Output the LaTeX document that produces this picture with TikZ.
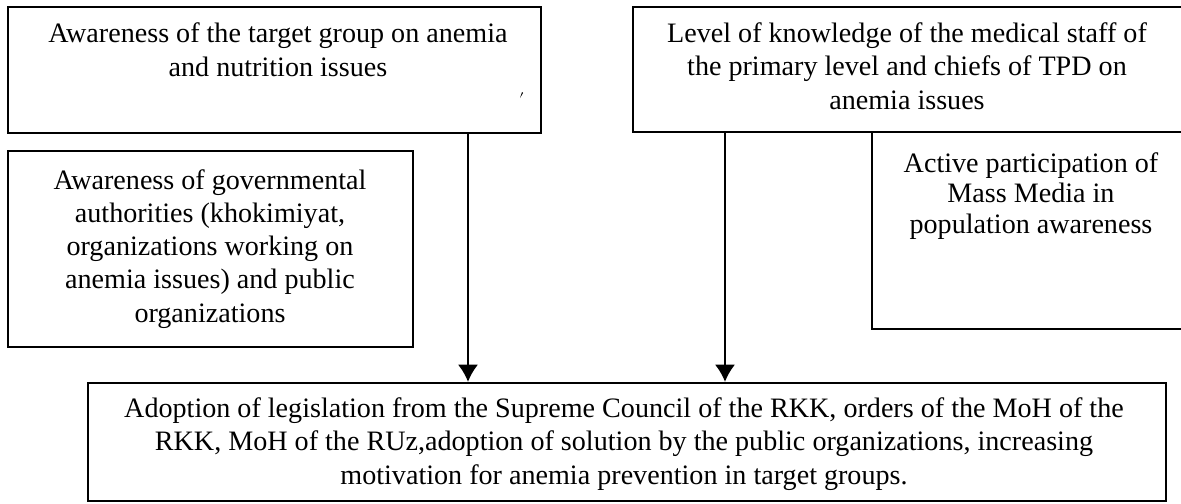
\documentclass[tikz,border=0pt]{standalone}
\usepackage{fontspec}
\setmainfont{Liberation Serif}
\usetikzlibrary{arrows.meta,fit}

\begin{document}
\begin{tikzpicture}[x=0.015cm, y=-0.015cm,
    box/.style={draw, line width=1pt, inner sep=0pt},
    txt/.style={align=center, inner sep=0pt, anchor=base, font=\fontsize{12}{14.1}\selectfont},
    flow/.style={-{Latex[length=7.3pt, width=8.5pt]}, line width=0.7pt}]
    % Define frame
    \useasboundingbox (0,0) rectangle (1181,504);
    \clip (0,0) rectangle (1181,504);

    % Define corners of the boxes
    \coordinate (a1) at (8,7);    \coordinate (a2) at (541,133);
    \coordinate (b1) at (633,7);  \coordinate (b2) at (1184,132);
    \coordinate (c1) at (872,132); \coordinate (c2) at (1190,329);
    \coordinate (d1) at (8,151);  \coordinate (d2) at (413,347);
    \coordinate (e1) at (88,383); \coordinate (e2) at (1166,501);

    % Draw boxes
    \node[box, fit=(a1)(a2)] (target) {};
    \node[box, fit=(b1)(b2)] (staff) {};
    \node[box, fit=(c1)(c2)] (media) {};
    \node[box, fit=(d1)(d2)] (gov) {};
    \node[box, fit=(e1)(e2)] (result) {};

    % Draw texts (placed at the baseline of the last line)
    \node[txt] (targetT) at (278,76) {Awareness of the target group on anemia\\ and nutrition issues};
    \node[txt] (staffT) at (907,109) {Level of knowledge of the medical staff of\\ the primary level and chiefs of TPD on\\ anemia issues};
    \node[txt, font=\fontsize{12}{13}\selectfont] (mediaT) at (1031,233) {Active participation of\\ Mass Media in\\ population awareness};
    \node[txt] (govT) at (210,322) {Awareness of governmental\\ authorities (khokimiyat,\\ organizations working on\\ anemia issues) and public\\ organizations};
    \node[txt] (resultT) at (624,484) {Adoption of legislation from the Supreme Council of the RKK, orders of the MoH of the\\ RKK, MoH of the RUz,adoption of solution by the public organizations, increasing\\ motivation for anemia prevention in target groups.};

    % Small speck in the first box
    \fill (522,92) -- (523,93) -- (520,98) -- cycle;

    % Draw arrows
    \coordinate (s1) at (468,0);
    \coordinate (s2) at (725,0);
    \draw[flow] (target.south -| s1) -- (result.north -| s1);
    \draw[flow] (staff.south -| s2) -- (result.north -| s2);
\end{tikzpicture}
\end{document}
